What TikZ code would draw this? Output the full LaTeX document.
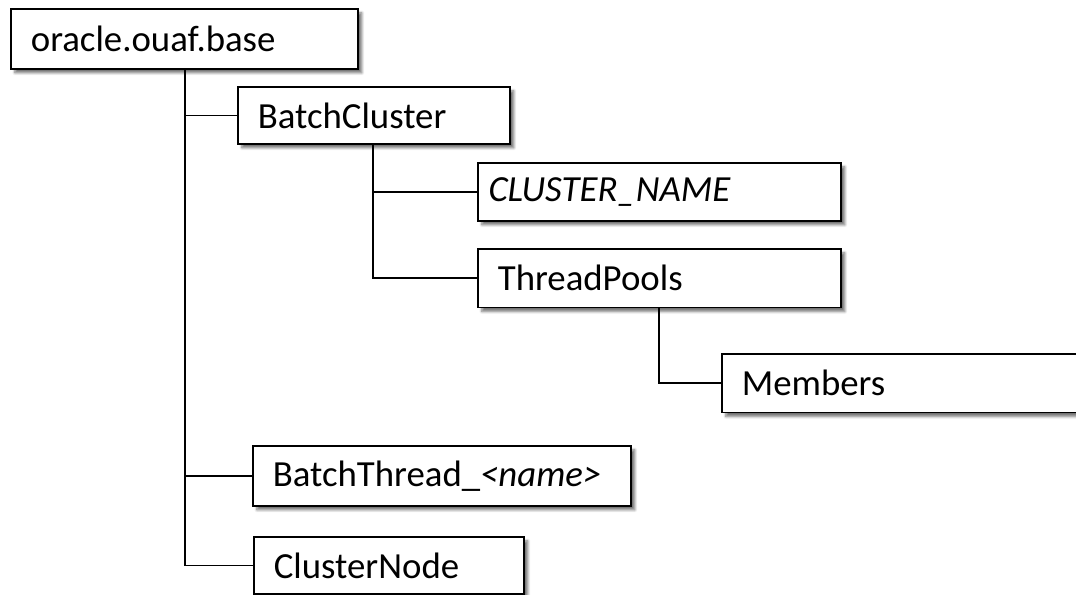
\documentclass[tikz,border=0pt]{standalone}
\usepackage{fontspec}
\setmainfont{Carlito}
\usetikzlibrary{shadows.blur}
\tikzstyle{box} = [draw, fill=white, line width=1.3pt, anchor=north west,
  inner xsep=15pt, inner ysep=0pt, minimum height=44pt, align=left,
  font=\fontsize{27.6}{30}\selectfont,
  blur shadow={shadow xshift=3pt, shadow yshift=-3pt, shadow opacity=55, shadow blur steps=6}]
\tikzstyle{link} = [line width=1.3pt]

\begin{document}
\begin{tikzpicture}[x=0.75pt, y=-0.75pt]
	\useasboundingbox (0,0) rectangle (1076,594);
	\clip (0,0) rectangle (1076,594);
	% tree connectors
	\coordinate (rootfoot) at (185,68);
	\coordinate (bcfoot) at (373,143);
	\coordinate (tpfoot) at (659,307);
	\node[box, text width=230.25pt, minimum height=45pt] (root) at (10,8) {oracle.ouaf.base};
	\node[box, text width=174pt, minimum height=42.75pt] (bcluster) at (237,86) {BatchCluster};
	\node[box, text width=242.25pt, minimum height=43.5pt] (cname) at (477,162) {\hspace*{-7pt}\textit{CLUSTER\_NAME}};
	\node[box, text width=242.25pt] (tpools) at (477,248) {ThreadPools};
	\node[box, text width=246.75pt] (members) at (721,353) {Members};
	\node[box, text width=253.5pt, minimum height=45pt] (bthread) at (252,445) {BatchThread\_\textit{<name>}};
	\node[box, text width=172.5pt, minimum height=42.75pt] (cnode) at (253,536) {ClusterNode};
	\draw[link] (rootfoot) |- (bcluster.west);
	\draw[link] (rootfoot) |- (bthread.west);
	\draw[link] (rootfoot) |- (cnode.west);
	\draw[link] (bcfoot) |- (cname.west);
	\draw[link] (bcfoot) |- (tpools.west);
	\draw[link] (tpfoot) |- (members.west);
\end{tikzpicture}
\end{document}
